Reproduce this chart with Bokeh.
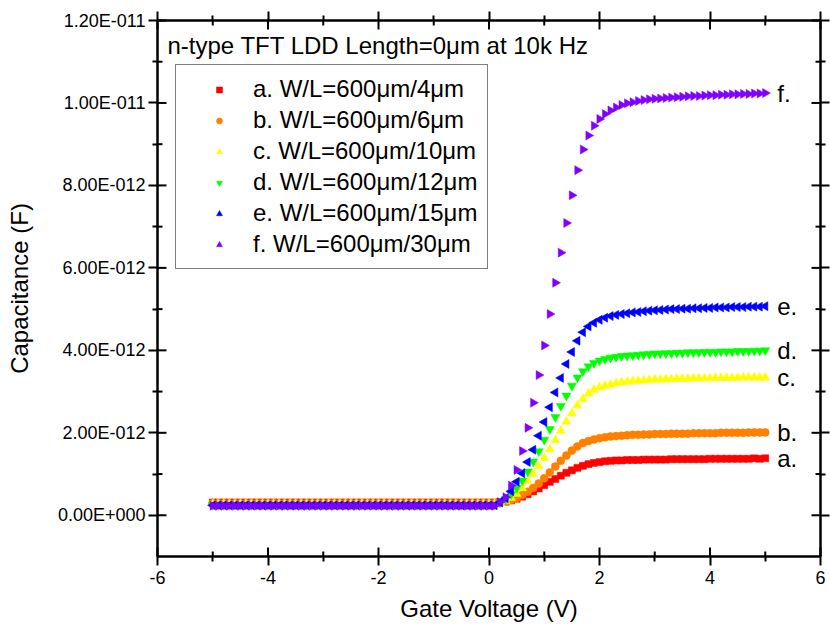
from bokeh.plotting import figure
from bokeh.models import (Range1d, FixedTicker, LinearAxis, Legend, LegendItem, Label, ColumnDataSource)
from bokeh.core.properties import value
from bokeh.embed import file_html
from bokeh.resources import INLINE
import math

FONT = "Liberation Sans"

# Gate voltage sweep (V)
gate_voltage = [
    -5.0, -4.9, -4.8, -4.7, -4.6, -4.5, -4.4, -4.3, -4.2, -4.1,
    -4.0, -3.9, -3.8, -3.7, -3.6, -3.5, -3.4, -3.3, -3.2, -3.1,
    -3.0, -2.9, -2.8, -2.7, -2.6, -2.5, -2.4, -2.3, -2.2, -2.1,
    -2.0, -1.9, -1.8, -1.7, -1.6, -1.5, -1.4, -1.3, -1.2, -1.1,
    -1.0, -0.9, -0.8, -0.7, -0.6, -0.5, -0.4, -0.3, -0.2, -0.1,
    0.0, 0.1, 0.2, 0.3, 0.4, 0.5, 0.6, 0.7, 0.8, 0.9,
    1.0, 1.1, 1.2, 1.3, 1.4, 1.5, 1.6, 1.7, 1.8, 1.9,
    2.0, 2.1, 2.2, 2.3, 2.4, 2.5, 2.6, 2.7, 2.8, 2.9,
    3.0, 3.1, 3.2, 3.3, 3.4, 3.5, 3.6, 3.7, 3.8, 3.9,
    4.0, 4.1, 4.2, 4.3, 4.4, 4.5, 4.6, 4.7, 4.8, 4.9,
    5.0,
]

# Capacitance values in pF (1e-12 F)
cap_a = [
    0.31, 0.31, 0.31, 0.31, 0.31, 0.31, 0.31, 0.31, 0.31, 0.31, 0.31, 0.31, 0.31,
    0.31, 0.31, 0.31, 0.31, 0.31, 0.31, 0.31, 0.31, 0.31, 0.31, 0.31, 0.31, 0.31,
    0.31, 0.31, 0.31, 0.31, 0.31, 0.31, 0.31, 0.31, 0.31, 0.31, 0.31, 0.31, 0.31,
    0.31, 0.31, 0.31, 0.31, 0.31, 0.31, 0.31, 0.31, 0.31, 0.31, 0.31, 0.31, 0.31,
    0.32, 0.33, 0.36, 0.40, 0.45, 0.51, 0.58, 0.65, 0.73, 0.81, 0.88, 0.96, 1.03,
    1.09, 1.15, 1.20, 1.24, 1.27, 1.29, 1.31, 1.32, 1.33, 1.33, 1.34, 1.34, 1.34,
    1.35, 1.35, 1.35, 1.35, 1.35, 1.36, 1.36, 1.36, 1.36, 1.36, 1.36, 1.36, 1.37,
    1.37, 1.37, 1.37, 1.37, 1.37, 1.37, 1.37, 1.38, 1.37, 1.38,
]
cap_b = [
    0.29, 0.29, 0.29, 0.29, 0.29, 0.29, 0.29, 0.29, 0.29, 0.29, 0.29, 0.29, 0.29,
    0.29, 0.29, 0.29, 0.29, 0.29, 0.29, 0.29, 0.29, 0.29, 0.29, 0.29, 0.29, 0.29,
    0.29, 0.29, 0.29, 0.29, 0.29, 0.29, 0.29, 0.29, 0.29, 0.29, 0.29, 0.29, 0.29,
    0.29, 0.29, 0.29, 0.29, 0.29, 0.29, 0.29, 0.29, 0.29, 0.29, 0.29, 0.29, 0.29,
    0.30, 0.33, 0.37, 0.42, 0.49, 0.57, 0.66, 0.77, 0.90, 1.04, 1.18, 1.32, 1.45,
    1.57, 1.67, 1.75, 1.80, 1.84, 1.87, 1.89, 1.91, 1.92, 1.93, 1.94, 1.95, 1.95,
    1.96, 1.96, 1.97, 1.97, 1.97, 1.98, 1.98, 1.98, 1.98, 1.99, 1.99, 1.99, 1.99,
    1.99, 2.00, 2.00, 2.00, 2.00, 2.00, 2.01, 2.01, 2.01, 2.01,
]
cap_c = [
    0.27, 0.27, 0.27, 0.27, 0.27, 0.27, 0.27, 0.27, 0.27, 0.27, 0.27, 0.27, 0.27,
    0.27, 0.27, 0.27, 0.27, 0.27, 0.27, 0.27, 0.27, 0.27, 0.27, 0.27, 0.27, 0.27,
    0.27, 0.27, 0.27, 0.27, 0.27, 0.27, 0.27, 0.27, 0.27, 0.27, 0.27, 0.27, 0.27,
    0.27, 0.27, 0.27, 0.27, 0.27, 0.27, 0.27, 0.27, 0.27, 0.27, 0.27, 0.27, 0.27,
    0.30, 0.35, 0.42, 0.52, 0.66, 0.83, 1.01, 1.19, 1.39, 1.60, 1.82, 2.05, 2.27,
    2.47, 2.66, 2.82, 2.95, 3.04, 3.10, 3.14, 3.17, 3.20, 3.22, 3.24, 3.25, 3.26,
    3.27, 3.28, 3.29, 3.29, 3.30, 3.30, 3.31, 3.31, 3.31, 3.32, 3.32, 3.32, 3.32,
    3.33, 3.33, 3.33, 3.33, 3.33, 3.34, 3.34, 3.34, 3.34, 3.34,
]
cap_d = [
    0.25, 0.25, 0.25, 0.25, 0.25, 0.25, 0.25, 0.25, 0.25, 0.25, 0.25, 0.25, 0.25,
    0.25, 0.25, 0.25, 0.25, 0.25, 0.25, 0.25, 0.25, 0.25, 0.25, 0.25, 0.25, 0.25,
    0.25, 0.25, 0.25, 0.25, 0.25, 0.25, 0.25, 0.25, 0.25, 0.25, 0.25, 0.25, 0.25,
    0.25, 0.25, 0.25, 0.25, 0.25, 0.25, 0.25, 0.25, 0.25, 0.25, 0.25, 0.25, 0.25,
    0.31, 0.39, 0.51, 0.66, 0.84, 1.06, 1.30, 1.55, 1.83, 2.09, 2.38, 2.65, 2.90,
    3.14, 3.34, 3.49, 3.61, 3.69, 3.75, 3.79, 3.82, 3.84, 3.86, 3.87, 3.88, 3.89,
    3.90, 3.91, 3.92, 3.92, 3.93, 3.93, 3.94, 3.94, 3.95, 3.95, 3.95, 3.96, 3.96,
    3.96, 3.97, 3.97, 3.97, 3.98, 3.98, 3.98, 3.99, 3.99, 4.00,
]
cap_e = [
    0.24, 0.24, 0.24, 0.24, 0.24, 0.24, 0.24, 0.24, 0.24, 0.24, 0.24, 0.24, 0.24,
    0.24, 0.24, 0.24, 0.24, 0.24, 0.24, 0.24, 0.24, 0.24, 0.24, 0.24, 0.24, 0.24,
    0.24, 0.24, 0.24, 0.24, 0.24, 0.24, 0.24, 0.24, 0.24, 0.24, 0.24, 0.24, 0.24,
    0.24, 0.24, 0.24, 0.24, 0.24, 0.24, 0.24, 0.24, 0.24, 0.24, 0.24, 0.24, 0.24,
    0.31, 0.41, 0.58, 0.81, 1.02, 1.29, 1.59, 1.93, 2.26, 2.62, 2.98, 3.33, 3.67,
    3.96, 4.23, 4.44, 4.58, 4.67, 4.74, 4.79, 4.83, 4.86, 4.88, 4.90, 4.92, 4.93,
    4.95, 4.96, 4.97, 4.98, 4.99, 5.00, 5.00, 5.01, 5.01, 5.02, 5.02, 5.03, 5.03,
    5.04, 5.04, 5.04, 5.05, 5.05, 5.05, 5.06, 5.06, 5.06, 5.07,
]
cap_f = [
    0.23, 0.23, 0.23, 0.23, 0.23, 0.23, 0.23, 0.23, 0.23, 0.23, 0.23, 0.23, 0.23,
    0.23, 0.23, 0.23, 0.23, 0.23, 0.23, 0.23, 0.23, 0.23, 0.23, 0.23, 0.23, 0.23,
    0.23, 0.23, 0.23, 0.23, 0.23, 0.23, 0.23, 0.23, 0.23, 0.23, 0.23, 0.23, 0.23,
    0.23, 0.23, 0.23, 0.23, 0.23, 0.23, 0.23, 0.23, 0.23, 0.23, 0.23, 0.23, 0.23,
    0.32, 0.44, 0.72, 1.10, 1.56, 2.12, 2.73, 3.40, 4.12, 4.88, 5.64, 6.37, 7.09,
    7.76, 8.37, 8.87, 9.21, 9.45, 9.61, 9.73, 9.82, 9.89, 9.95, 9.99, 10.02, 10.05,
    10.07, 10.09, 10.10, 10.11, 10.12, 10.13, 10.14, 10.15, 10.16, 10.17, 10.17, 10.18, 10.19,
    10.19, 10.20, 10.20, 10.21, 10.21, 10.22, 10.22, 10.23, 10.23, 10.24,
]

# Axis ticks and tick labels
x_major_ticks = [-6, -4, -2, 0, 2, 4, 6]
x_minor_ticks = [-5, -3, -1, 1, 3, 5]
x_tick_labels = ["-6", "-4", "-2", "0", "2", "4", "6"]
y_major_ticks = [0, 2, 4, 6, 8, 10, 12]
y_minor_ticks = [1, 3, 5, 7, 9, 11]
y_tick_labels = ["0.00E+000", "2.00E-012", "4.00E-012", "6.00E-012",
                 "8.00E-012", "1.00E-011", "1.20E-011"]

series = [cap_a, cap_b, cap_c, cap_d, cap_e, cap_f]
legend_labels = [
    "a. W/L=600μm/4μm",
    "b. W/L=600μm/6μm",
    "c. W/L=600μm/10μm",
    "d. W/L=600μm/12μm",
    "e. W/L=600μm/15μm",
    "f. W/L=600μm/30μm",
]
end_tags = ["a.", "b.", "c.", "d.", "e.", "f."]
title_text = "n-type TFT LDD Length=0μm at 10k Hz"

colors = ["#FF0000", "#FF8000", "#FFFF00", "#00FF00", "#0000FF", "#8000FF"]
markers = ["square", "circle", "triangle", "inverted_triangle", "triangle", "triangle"]
angles = [0, 0, 0, 0, math.pi / 2, -math.pi / 2]
sizes = [7, 8, 9, 9, 9, 9]

X_MIN, X_MAX = -6, 6
Y_MIN, Y_MAX = -1, 12
FRAME_W, FRAME_H = 663, 536

p = figure(frame_width=FRAME_W, frame_height=FRAME_H,
           x_range=Range1d(X_MIN, X_MAX), y_range=Range1d(Y_MIN, Y_MAX),
           output_backend="svg", toolbar_location=None,
           min_border_left=157, min_border_right=10,
           min_border_top=20, min_border_bottom=77)
p.xgrid.grid_line_color = None
p.ygrid.grid_line_color = None
p.outline_line_color = "black"
p.outline_line_width = 2


def style_axis(ax):
    ax.axis_line_color = "black"
    ax.axis_line_width = 2
    ax.major_tick_line_color = "black"
    ax.major_tick_line_width = 2
    ax.minor_tick_line_color = "black"
    ax.minor_tick_line_width = 2
    ax.major_tick_in = 0
    ax.major_tick_out = 9
    ax.minor_tick_in = 0
    ax.minor_tick_out = 5
    ax.major_label_text_font = FONT
    ax.major_label_text_font_size = "18px"
    ax.major_label_text_color = "black"
    ax.axis_label_text_font = FONT
    ax.axis_label_text_font_size = "24px"
    ax.axis_label_text_font_style = "normal"
    ax.axis_label_text_color = "black"


p.xaxis.ticker = FixedTicker(ticks=x_major_ticks, minor_ticks=x_minor_ticks)
p.yaxis.ticker = FixedTicker(ticks=y_major_ticks, minor_ticks=y_minor_ticks)
p.xaxis.major_label_overrides = dict(zip(x_major_ticks, x_tick_labels))
p.yaxis.major_label_overrides = dict(zip(y_major_ticks, y_tick_labels))
p.xaxis.axis_label = "Gate Voltage (V)"
p.yaxis.axis_label = "Capacitance (F)"
for ax in p.xaxis + p.yaxis:
    style_axis(ax)
p.xaxis.major_label_standoff = 5
p.yaxis.major_label_standoff = 3
p.xaxis.axis_label_standoff = 8
p.yaxis.axis_label_standoff = 22

# mirrored tick marks on the top and right edges (no labels)
top_ax = LinearAxis(ticker=FixedTicker(ticks=x_major_ticks, minor_ticks=x_minor_ticks),
                    major_label_overrides={t: "" for t in x_major_ticks})
right_ax = LinearAxis(ticker=FixedTicker(ticks=y_major_ticks, minor_ticks=y_minor_ticks),
                      major_label_overrides={t: "" for t in y_major_ticks})
for ax in (top_ax, right_ax):
    style_axis(ax)
    ax.major_label_standoff = 0
    ax.major_label_text_font_size = "0px"
p.add_layout(top_ax, "above")
p.add_layout(right_ax, "right")

renderers = []
for ys, c, m, a, s in zip(series, colors, markers, angles, sizes):
    src = ColumnDataSource(dict(x=gate_voltage, y=ys))
    r = p.scatter("x", "y", source=src, marker=m, size=s, angle=a,
                  fill_color=c, line_color=c, line_width=0.5)
    renderers.append(r)

legend = Legend(items=[LegendItem(label=lab, renderers=[r]) for lab, r in zip(legend_labels, renderers)],
                location=(18, 287), margin=0,
                label_text_font=FONT, label_text_font_size="24px", label_text_color="black",
                glyph_width=66, glyph_height=15, label_height=27, label_standoff=1,
                spacing=3, padding=10,
                border_line_color="black", border_line_width=1,
                background_fill_color="white", background_fill_alpha=1)
p.add_layout(legend)

end_src = ColumnDataSource(dict(x=[gate_voltage[-1]] * len(series),
                                y=[ys[-1] for ys in series],
                                t=end_tags))
p.text("x", "y", text="t", source=end_src, x_offset=12, text_baseline="middle",
       text_align="left", text_font=value(FONT), text_font_size="24px", text_color="black")

p.add_layout(Label(x=10, y=511, x_units="screen", y_units="screen", text=title_text,
                   text_font=FONT, text_font_size="24px", text_baseline="middle",
                   text_color="black"))

# inward tick marks on all four frame edges, drawn last on the overlay level
px_x = FRAME_W / (X_MAX - X_MIN)   # pixels per volt
px_y = FRAME_H / (Y_MAX - Y_MIN)   # pixels per pF
seg_kw = dict(line_color="black", line_width=2, level="overlay")
for ticks, ln in ((x_major_ticks, 9), (x_minor_ticks, 5)):
    n = len(ticks)
    p.segment(x0=ticks, x1=ticks, y0=[Y_MIN] * n, y1=[Y_MIN + ln / px_y] * n, **seg_kw)
    p.segment(x0=ticks, x1=ticks, y0=[Y_MAX] * n, y1=[Y_MAX - ln / px_y] * n, **seg_kw)
for ticks, ln in ((y_major_ticks, 9), (y_minor_ticks, 5)):
    n = len(ticks)
    p.segment(x0=[X_MIN] * n, x1=[X_MIN + ln / px_x] * n, y0=ticks, y1=ticks, **seg_kw)
    p.segment(x0=[X_MAX] * n, x1=[X_MAX - ln / px_x] * n, y0=ticks, y1=ticks, **seg_kw)

open("out.html", "w").write(file_html(p, INLINE))
